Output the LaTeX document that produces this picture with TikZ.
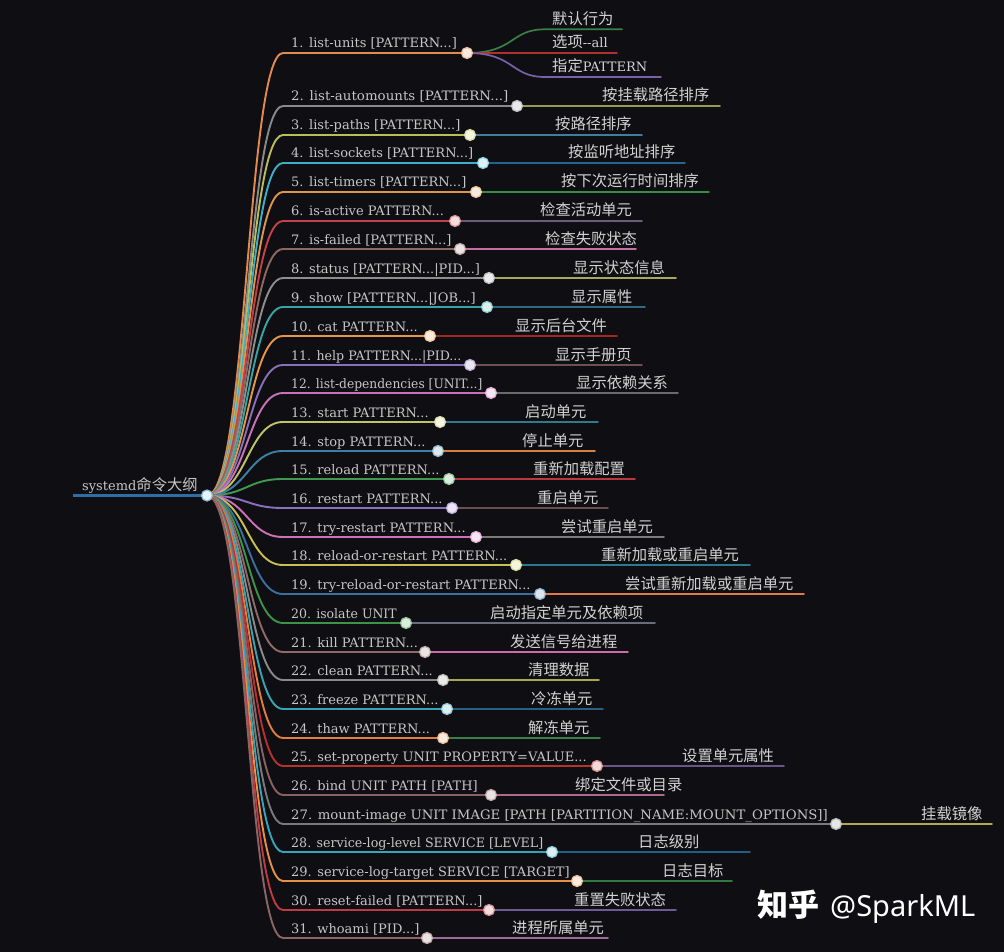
\documentclass[tikz,border=0pt]{standalone}
\usepackage{fontspec}
\setmainfont{DejaVu Serif}
\newfontfamily\cjk{Noto Sans CJK SC}
\newfontfamily\wm{Noto Sans}
\usetikzlibrary{backgrounds}
\pgfdeclarelayer{links}
\pgfsetlayers{background,links,main}
\tikzset{
  lbl/.style={anchor=base west,inner sep=0pt,text=lblc,font=\fontsize{13}{15}\selectfont},
  kid/.style={anchor=base west,inner sep=0pt,text=kidc,font=\fontsize{15.3}{18}\cjk},
  link/.style={line width=1.9pt,line cap=round},
  sublink/.style={line width=1.7pt,line cap=round},
  dotn/.style={circle,minimum size=11pt,inner sep=0pt,line width=1.2pt}
}
\definecolor{bgc}{HTML}{0F0F13}
\definecolor{lblc}{HTML}{C6C6C6}
\definecolor{kidc}{HTML}{D2D2D2}
\definecolor{rootc}{HTML}{2F6DA6}
% name, y, dot x, end x, branch colour, sub colour, label, child text, child x
\newcommand{\brch}[9]{%
  \definecolor{cA}{HTML}{#5}\definecolor{cB}{HTML}{#6}%
  \node[dotn,fill=cA!18!white,draw=cA!55!white] (d#1) at (#3,#2) {};
  \coordinate (e#1) at (#4,#2);
  \begin{pgfonlayer}{links}
  \draw[sublink,color=cB] (d#1.center) -- (e#1);
  \draw[link,color=cA] (root.center) .. controls (247,495.5) and (247,#2) .. (283,#2) -- (d#1.center);
  \end{pgfonlayer}
  \node[lbl] (l#1) at (291,#2-5) {#7};
  \node[kid] (k#1) at (#9,#2-5) {#8};
}
\begin{document}
\begin{tikzpicture}[x=1pt,y=-1pt]
\begin{pgfonlayer}{background}
\path[fill=bgc] (0,0) rectangle (1004,952);
\end{pgfonlayer}
\useasboundingbox (0,0) rectangle (1004,952);
\node[dotn,fill=white!88!cyan,draw=rootc!50!white] (root) at (207,495.5) {};
\coordinate (rs) at (73,495.5);
\node[anchor=base west,inner sep=0pt,text=lblc,font=\fontsize{13}{15}\selectfont] (rl) at (82,490) {systemd{\cjk\fontsize{15.3}{18}\selectfont 命令大纲}};
\brch{1}{53}{467}{470}{E58A4E}{E58A4E}{1. list-units [PATTERN...]}{}{552}
\node[kid] (k1a) at (552,24.3) {默认行为};
\node[kid] (k1b) at (552,48) {选项{\rmfamily\fontsize{13}{15}\selectfont -{}-all}};
\node[kid] (k1c) at (552,72) {指定{\rmfamily\fontsize{13}{15}\selectfont PATTERN}};
\coordinate (e1a) at (622,29.3);\coordinate (e1b) at (617,53);\coordinate (e1c) at (661,77);
\begin{pgfonlayer}{links}
\definecolor{k1ac}{HTML}{3A8044}\definecolor{k1bc}{HTML}{B03030}\definecolor{k1cc}{HTML}{7A60A8}
\draw[sublink,color=k1ac] (d1.center) .. controls (515,53) and (510,29.3) .. (545,29.3) -- (e1a);
\draw[sublink,color=k1bc] (d1.center) -- (e1b);
\draw[sublink,color=k1cc] (d1.center) .. controls (515,53) and (510,77) .. (545,77) -- (e1c);
\end{pgfonlayer}
\brch{2}{106}{517}{720}{8A8A8A}{9A9A50}{\scalebox{1.03}[1]{2. list-automounts [PATTERN...]}}{按挂载路径排序}{602}
\brch{3}{135}{470}{642}{B9BE5A}{3E7FA0}{3. list-paths [PATTERN...]}{按路径排序}{555}
\brch{4}{163}{483}{685}{3FAFC9}{27648E}{4. list-sockets [PATTERN...]}{按监听地址排序}{568}
\brch{5}{192}{476}{709}{E0954E}{3B8B44}{5. list-timers [PATTERN...]}{按下次运行时间排序}{561}
\brch{6}{221}{455}{642}{C4404A}{6F5A7A}{6. is-active PATTERN...}{检查活动单元}{540}
\brch{7}{249}{460}{636}{8C6A60}{C76FA0}{7. is-failed [PATTERN...]}{检查失败状态}{545}
\brch{8}{278}{489}{676}{8E8E8E}{A8A860}{8. status [PATTERN...|PID...]}{显示状态信息}{573}
\brch{9}{307}{487}{645}{38A5A5}{2F6A85}{9. show [PATTERN...|JOB...]}{显示属性}{571}
\brch{10}{336}{430}{617}{E8964A}{A32626}{10. cat PATTERN...}{显示后台文件}{515}
\brch{11}{365}{470}{642}{8A70B8}{6E5050}{\scalebox{.97}[1]{11. help PATTERN...|PID...}}{显示手册页}{555}
\brch{12}{393}{491}{678}{C873B8}{6A6A6A}{\scalebox{.945}[1]{12. list-dependencies [UNIT...]}}{显示依赖关系}{576}
\brch{13}{422}{440}{598}{C2C266}{2F7A90}{13. start PATTERN...}{启动单元}{525}
\brch{14}{451}{438}{595}{3F7FA5}{D9803F}{14. stop PATTERN...}{停止单元}{522}
\brch{15}{479}{449}{635}{3F9A50}{B8383F}{15. reload PATTERN...}{重新加载配置}{533}
\brch{16}{508}{452}{608}{8D6FC0}{6B4F4F}{16. restart PATTERN...}{重启单元}{537}
\brch{17}{537}{476}{664}{D070B8}{7A7A7A}{17. try-restart PATTERN...}{尝试重启单元}{561}
\brch{18}{565}{516}{750}{C9C050}{2C7A90}{18. reload-or-restart PATTERN...}{重新加载或重启单元}{601}
\brch{19}{594}{540}{804}{3A6F9E}{E07A4A}{19. try-reload-or-restart PATTERN...}{尝试重新加载或重启单元}{625}
\brch{20}{623}{406}{655}{3C9448}{6B6B80}{\scalebox{.96}[1]{20. isolate UNIT}}{启动指定单元及依赖项}{490}
\brch{21}{652}{425}{628}{8E6A6A}{D06AA8}{21. kill PATTERN...}{发送信号给进程}{510}
\brch{22}{680}{443}{599}{8A8A8A}{A8A850}{22. clean PATTERN...}{清理数据}{528}
\brch{23}{709}{447}{603}{35A5B5}{2A5F85}{23. freeze PATTERN...}{冷冻单元}{531}
\brch{24}{738}{443}{600}{E07F3F}{3A7F4A}{24. thaw PATTERN...}{解冻单元}{528}
\brch{25}{766}{597}{784}{B83030}{6A5588}{25. set-property UNIT PROPERTY=VALUE...}{设置单元属性}{682}
\brch{26}{795}{491}{664}{8A6060}{B0688E}{26. bind UNIT PATH [PATH]}{绑定文件或目录}{575}
\brch{27}{824}{836}{992}{7A7A7A}{AEAA55}{\scalebox{1.02}[1]{27. mount-image UNIT IMAGE [PATH [PARTITION\_NAME:MOUNT\_OPTIONS]]}}{挂载镜像}{921}
\brch{28}{852}{552}{750}{35A5BA}{1F5F88}{\scalebox{.973}[1]{28. service-log-level SERVICE [LEVEL]}}{日志级别}{638}
\brch{29}{881}{577}{732}{E89048}{2E7A40}{29. service-log-target SERVICE [TARGET]}{日志目标}{662}
\brch{30}{910}{489}{676}{BE3A44}{6F5A98}{30. reset-failed [PATTERN...]}{重置失败状态}{574}
\brch{31}{938}{427}{608}{8C6464}{A06A98}{31. whoami [PID...]}{进程所属单元}{512}
\begin{pgfonlayer}{links}
\draw[line width=3.4pt,color=rootc] (rs) -- (root.center);
\end{pgfonlayer}
\node[anchor=base west,inner sep=0pt,text=white,font=\fontsize{31}{36}\cjk\bfseries] (wm1) at (757,916) {知乎};
\node[anchor=base west,inner sep=0pt,text=white,font=\fontsize{29}{34}\wm] (wm2) at (830,916) {@SparkML};
\end{tikzpicture}
\end{document}
